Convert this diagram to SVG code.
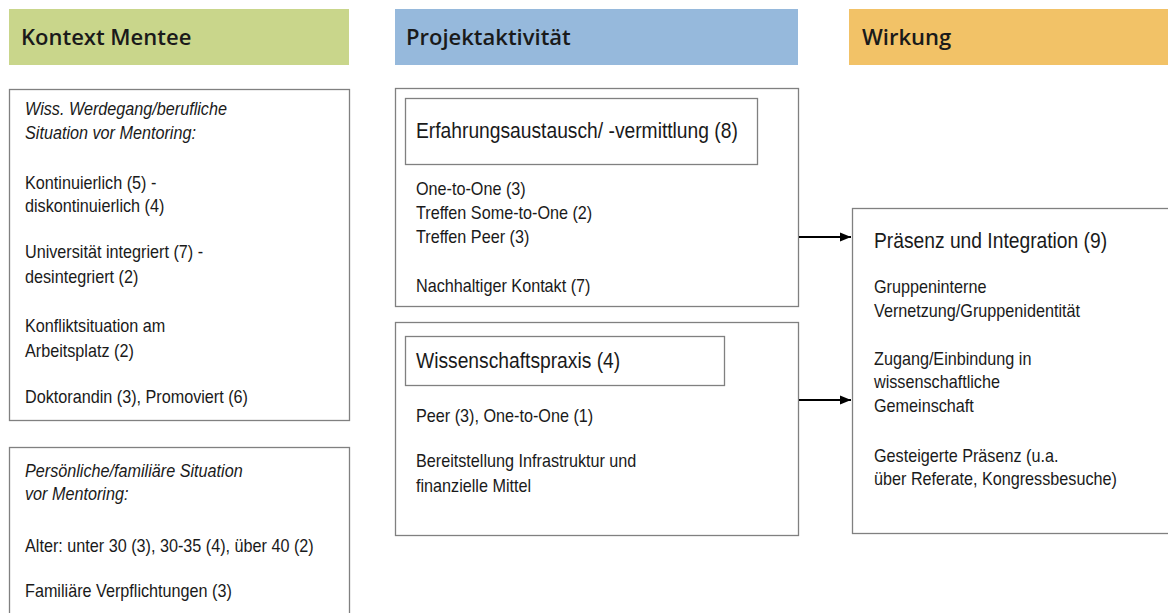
<svg xmlns="http://www.w3.org/2000/svg" width="1168" height="613" viewBox="0 0 1168 613">
<style>
.hdr{font-family:"Open Sans","Liberation Sans",sans-serif;font-weight:600;font-size:22px;fill:#1a1a1a}
.box{fill:#fff;stroke:#808080;stroke-width:1.3}
.t{font-family:"Liberation Sans",Arial,sans-serif;font-size:18.5px;fill:#1a1a1a}
.i{font-style:italic}
.big{font-size:22px}
.conn{stroke:#000;stroke-width:2;fill:none}
</style>
<defs>
<marker id="arr" viewBox="0 0 10 10" refX="10" refY="5" markerWidth="5.5" markerHeight="5.5" orient="auto" markerUnits="strokeWidth">
<path d="M0,1 L10,5 L0,9 z" fill="#000"/>
</marker>
</defs>
<rect width="1168" height="613" fill="#fff"/>

<g id="header-kontext">
<rect x="9" y="9" width="340" height="56" fill="#c9d68b"/>
<text class="hdr" x="21" y="45">Kontext Mentee</text>
</g>
<g id="header-projekt">
<rect x="395" y="9" width="403" height="56" fill="#96b9dc"/>
<text class="hdr" x="406" y="45">Projektaktivität</text>
</g>
<g id="header-wirkung">
<rect x="849" y="9" width="319" height="56" fill="#f2c267"/>
<text class="hdr" x="862" y="45">Wirkung</text>
</g>

<g id="node-werdegang">
<rect class="box" x="9.5" y="89.5" width="340" height="331"/>
<g transform="translate(25 0) scale(0.875 1)">
<text class="t i" x="0" y="115">Wiss. Werdegang/berufliche</text>
<text class="t i" x="0" y="139">Situation vor Mentoring:</text>
<text class="t" x="0" y="189">Kontinuierlich (5) -</text>
<text class="t" x="0" y="212">diskontinuierlich (4)</text>
<text class="t" x="0" y="258">Universität integriert (7) -</text>
<text class="t" x="0" y="283">desintegriert (2)</text>
<text class="t" x="0" y="332">Konfliktsituation am</text>
<text class="t" x="0" y="357">Arbeitsplatz (2)</text>
<text class="t" x="0" y="403">Doktorandin (3), Promoviert (6)</text>
</g>
</g>

<g id="node-persoenlich">
<rect class="box" x="9.5" y="447.5" width="340" height="180"/>
<g transform="translate(25 0) scale(0.875 1)">
<text class="t i" x="0" y="477">Persönliche/familiäre Situation</text>
<text class="t i" x="0" y="500">vor Mentoring:</text>
<text class="t" x="0" y="552">Alter: unter 30 (3), 30-35 (4), über 40 (2)</text>
<text class="t" x="0" y="597">Familiäre Verpflichtungen (3)</text>
</g>
</g>

<g id="node-erfahrung">
<rect class="box" x="395.5" y="88.5" width="403" height="218"/>
<rect class="box" x="405.5" y="98.5" width="352" height="66"/>
<g transform="translate(416 0) scale(0.875 1)">
<text class="t big" x="0" y="138">Erfahrungsaustausch/ -vermittlung (8)</text>
<text class="t" x="0" y="195">One-to-One (3)</text>
<text class="t" x="0" y="219">Treffen Some-to-One (2)</text>
<text class="t" x="0" y="243">Treffen Peer (3)</text>
<text class="t" x="0" y="292">Nachhaltiger Kontakt (7)</text>
</g>
</g>

<g id="node-wissenschaft">
<rect class="box" x="395.5" y="322.5" width="403" height="213"/>
<rect class="box" x="405.5" y="336.5" width="319" height="49"/>
<g transform="translate(416 0) scale(0.875 1)">
<text class="t big" x="0" y="368">Wissenschaftspraxis (4)</text>
<text class="t" x="0" y="422">Peer (3), One-to-One (1)</text>
<text class="t" x="0" y="467">Bereitstellung Infrastruktur und</text>
<text class="t" x="0" y="492">finanzielle Mittel</text>
</g>
</g>

<g id="node-praesenz">
<rect class="box" x="852.5" y="208.5" width="330" height="325"/>
<g transform="translate(874 0) scale(0.875 1)">
<text class="t big" x="0" y="248">Präsenz und Integration (9)</text>
<text class="t" x="0" y="293">Gruppeninterne</text>
<text class="t" x="0" y="317">Vernetzung/Gruppenidentität</text>
<text class="t" x="0" y="365">Zugang/Einbindung in</text>
<text class="t" x="0" y="388">wissenschaftliche</text>
<text class="t" x="0" y="412">Gemeinschaft</text>
<text class="t" x="0" y="462">Gesteigerte Präsenz (u.a.</text>
<text class="t" x="0" y="485">über Referate, Kongressbesuche)</text>
</g>
</g>

<g id="connectors">
<line class="conn" x1="799" y1="237" x2="851" y2="237" marker-end="url(#arr)"/>
<line class="conn" x1="799" y1="400" x2="851" y2="400" marker-end="url(#arr)"/>
</g>
</svg>
